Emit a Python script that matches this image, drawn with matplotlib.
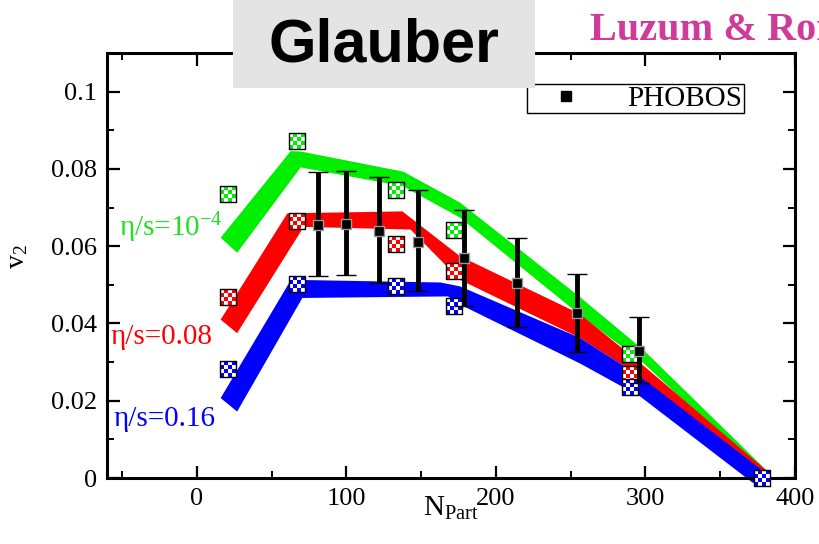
import numpy as np
import matplotlib
matplotlib.use('Agg')
import matplotlib.pyplot as plt
from matplotlib.path import Path
from matplotlib.patches import Rectangle
from matplotlib.lines import Line2D
from matplotlib.ticker import MultipleLocator

plt.rcParams['font.family'] = 'Liberation Serif'
plt.rcParams['mathtext.fontset'] = 'custom'
plt.rcParams['mathtext.rm'] = 'Liberation Serif'
plt.rcParams['mathtext.it'] = 'Liberation Serif:italic'

# theory bands: upper and lower edges (N_part, v2)
green_up_n = [16, 62.8, 69.5, 138, 176, 256, 298.5, 382]
green_up_v = [0.0622, 0.0846, 0.0845, 0.0793, 0.0713, 0.0469, 0.0332, 0.0016]
green_lo_n = [27, 69.5, 138, 176, 256, 298.5, 379]
green_lo_v = [0.0583, 0.0804, 0.0755, 0.0674, 0.0423, 0.0298, 0.0008]

red_up_n = [16, 60.6, 137.5, 176, 256, 296.5, 382]
red_up_v = [0.0410, 0.0685, 0.0690, 0.0574, 0.0425, 0.0298, 0.0016]
red_lo_n = [27, 71.5, 143, 176, 256, 296.5, 379]
red_lo_v = [0.0375, 0.0650, 0.0643, 0.0513, 0.0363, 0.0263, 0.0003]

blue_up_n = [16, 63, 163, 176, 256, 296.5, 382]
blue_up_v = [0.0207, 0.0513, 0.0506, 0.0496, 0.0363, 0.0263, 0.0008]
blue_lo_n = [27, 70.6, 168, 176, 256, 296.5, 372]
blue_lo_v = [0.0172, 0.0466, 0.0470, 0.0449, 0.0297, 0.0211, -0.0013]

# checkered points
green_pt_n = [21, 67, 133, 172, 290]
green_pt_v = [0.0735, 0.0873, 0.0745, 0.0642, 0.0322]
red_pt_n = [21, 67, 133, 172, 290]
red_pt_v = [0.0468, 0.0665, 0.0605, 0.0535, 0.0270]
blue_pt_n = [21, 67, 133, 172, 290, 378]
blue_pt_v = [0.0281, 0.0501, 0.0496, 0.0444, 0.0236, 0.0]

# PHOBOS data
phobos_n = np.array([81, 100, 122, 148, 179, 214, 254, 296])
phobos_v = np.array([0.0655, 0.0657, 0.0639, 0.0610, 0.0569, 0.0506, 0.0426, 0.0330])
phobos_hi = np.array([0.0792, 0.0795, 0.0779, 0.0745, 0.0693, 0.0621, 0.0527, 0.0416])
phobos_lo = np.array([0.0522, 0.0525, 0.0506, 0.0483, 0.0444, 0.0390, 0.0325, 0.0247])

GREEN = '#00ee00'
RED = '#ff0000'
BLUE = '#0000ff'


def checker(n=4):
    cells = []
    for i in range(n):
        for j in range(n):
            if (i + j) % 2 == 0:
                x0 = -1 + 2 * i / n
                y0 = -1 + 2 * j / n
                d = 2 / n
                cells.append(Path([(x0, y0), (x0 + d, y0), (x0 + d, y0 + d), (x0, y0 + d), (x0, y0)],
                                  [1, 2, 2, 2, 79]))
    return Path.make_compound_path(*cells)


square = Path([(-1, -1), (1, -1), (1, 1), (-1, 1), (-1, -1)], [1, 2, 2, 2, 79])
check = checker()

fig = plt.figure(figsize=(8.2, 5.44), dpi=100)
ax = fig.add_axes([0.1305, 0.1213, 0.839, 0.7813])

for up_n, up_v, lo_n, lo_v, c in [(green_up_n, green_up_v, green_lo_n, green_lo_v, GREEN),
                                  (red_up_n, red_up_v, red_lo_n, red_lo_v, RED),
                                  (blue_up_n, blue_up_v, blue_lo_n, blue_lo_v, BLUE)]:
    ax.fill(np.concatenate([up_n, lo_n[::-1]]), np.concatenate([up_v, lo_v[::-1]]),
            color=c, lw=0, zorder=1, clip_on=False)

ms = 12
for pn, pv, c in [(green_pt_n, green_pt_v, GREEN), (red_pt_n, red_pt_v, RED), (blue_pt_n, blue_pt_v, BLUE)]:
    ax.plot(pn, pv, ls='none', marker=square, ms=ms, mfc='white', mec='none', zorder=3, clip_on=False)
    ax.plot(pn, pv, ls='none', marker=check, ms=ms, mfc=c, mec='none', mew=0, zorder=3, clip_on=False)
    ax.plot(pn, pv, ls='none', marker=square, ms=ms, mfc='none', mec='black', mew=1, zorder=3, clip_on=False)

ax.errorbar(phobos_n, phobos_v, yerr=[phobos_v - phobos_lo, phobos_hi - phobos_v], fmt='s',
            color='black', ms=7, mec='0.6', mew=1, elinewidth=3.5, capsize=7, capthick=3, zorder=5)

ax.text(-52, 0.0648, 'η/s=10$^{-4}$', color='#22e022', fontsize=21, ha='left', va='center')
ax.text(-57.5, 0.0366, 'η/s=0.08', color=RED, fontsize=21, ha='left', va='center')
ax.text(-55.5, 0.0153, 'η/s=0.16', color=BLUE, fontsize=21, ha='left', va='center')

ax.set_xlim(-60, 400)
ax.set_ylim(0, 0.11)
ax.set_xticks([0, 100, 200, 300, 400])
ax.xaxis.set_minor_locator(MultipleLocator(50))
ax.set_yticks([0, 0.02, 0.04, 0.06, 0.08, 0.1])
ax.set_yticklabels(['0', '0.02', '0.04', '0.06', '0.08', '0.1'])
ax.yaxis.set_minor_locator(MultipleLocator(0.01))
ax.tick_params(which='both', direction='in', top=True, right=True, labelsize=19, pad=7)
ax.tick_params(which='major', length=9, width=1.6)
ax.tick_params(which='minor', length=5, width=1.4)
for s in ax.spines.values():
    s.set_linewidth(2.2)

ax.set_xlabel(r'N$_{\rm Part}$', fontsize=21)
ax.xaxis.set_label_coords(0.5, -0.04)
ax.set_ylabel(r'v$_2$', fontsize=20)
ax.yaxis.set_label_coords(-0.112, 0.52)

h = Line2D([], [], ls='none', marker='s', color='black', ms=7)
leg = ax.legend([h], ['PHOBOS'], loc='upper left', bbox_to_anchor=(0.61, 0.927), frameon=True,
                fancybox=False, edgecolor='black', framealpha=1, fontsize=21, borderpad=0.05,
                handlelength=2.6, handletextpad=0.8, borderaxespad=0)
leg.get_frame().set_linewidth(1.0)

fig.add_artist(Rectangle((233 / 820, 1 - 88 / 544), (535 - 233) / 820, 88 / 544,
                         transform=fig.transFigure, facecolor='#e4e4e4', edgecolor='none', zorder=10))
fig.text(384 / 820, 1 - 62 / 544, 'Glauber', family='Liberation Sans', weight='bold', fontsize=44,
         ha='center', va='baseline', zorder=11)
fig.text(590 / 820, 1 - 40 / 544, 'Luzum & Romatschke', color='#cf3a9b', weight='bold', fontsize=29,
         ha='left', va='baseline')

fig.savefig('out.png', dpi=100)
